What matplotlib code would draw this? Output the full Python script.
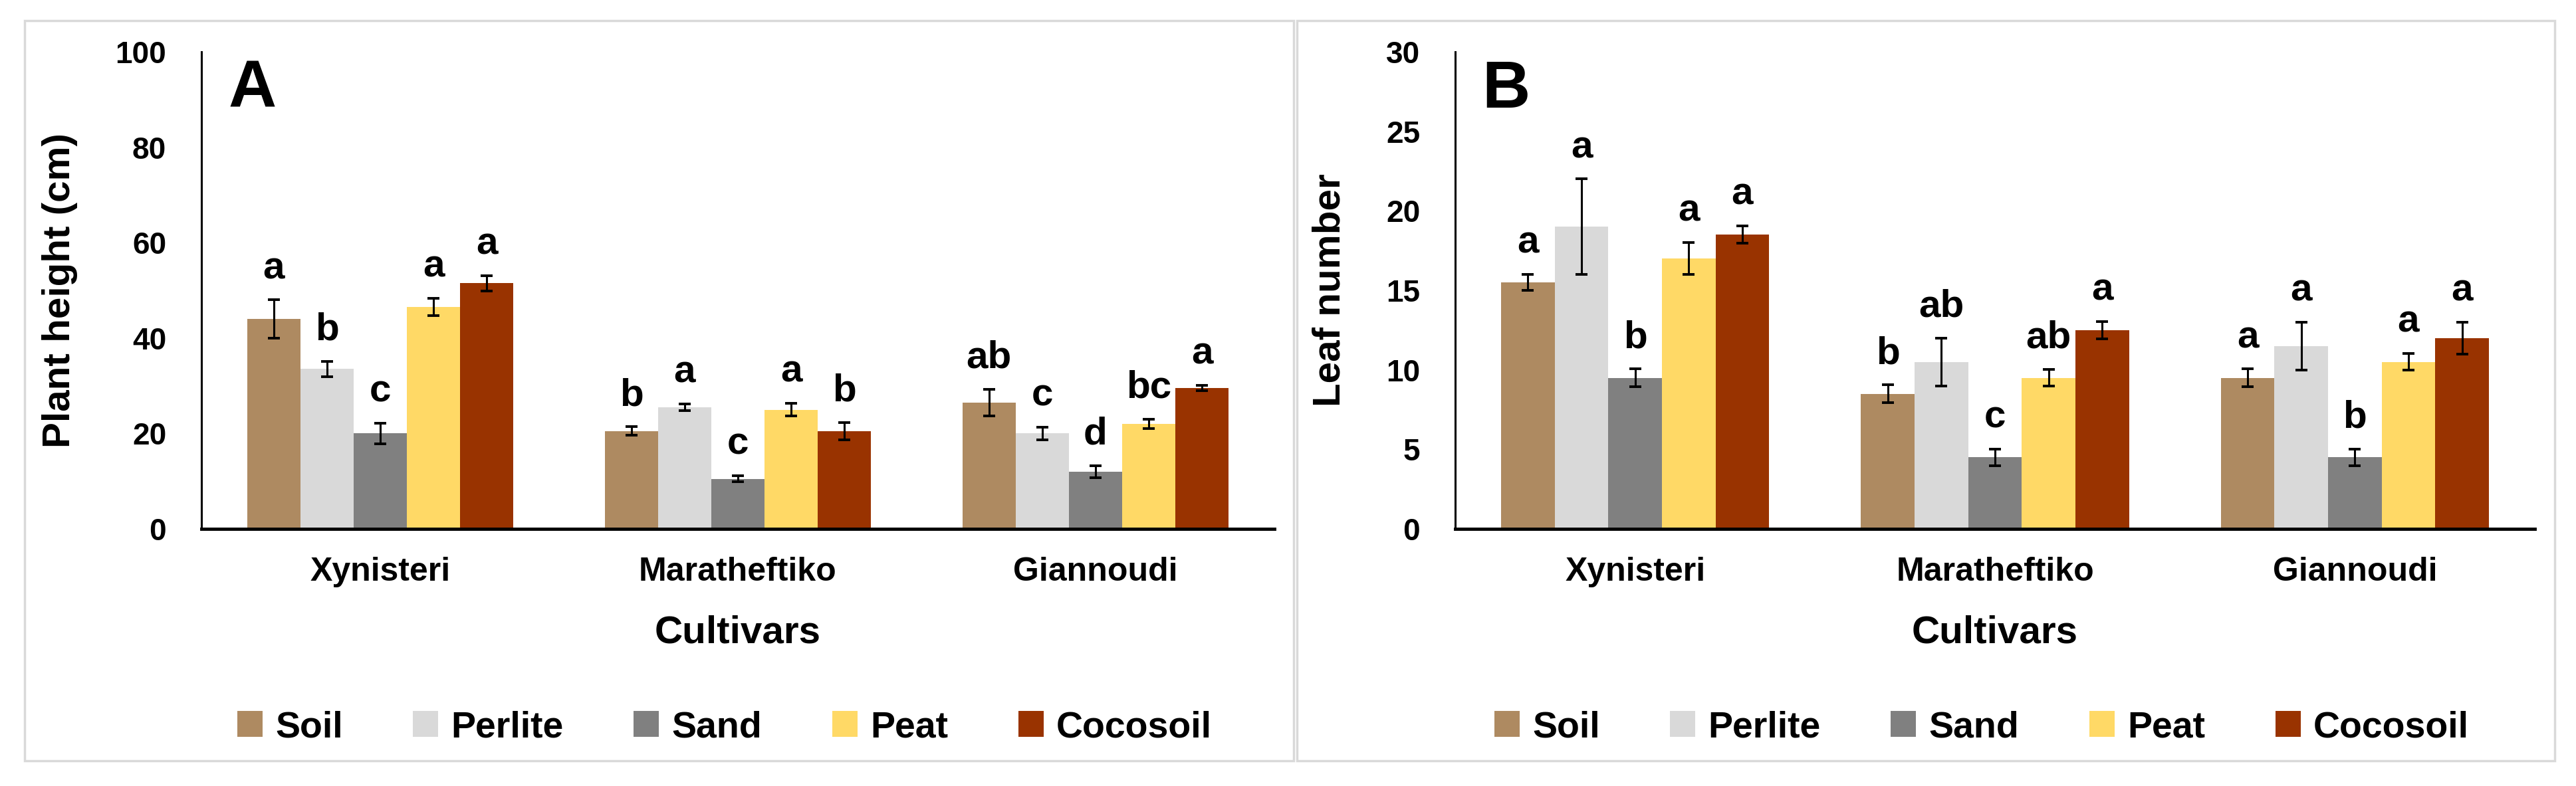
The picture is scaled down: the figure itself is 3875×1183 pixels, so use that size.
import matplotlib
matplotlib.use('Agg')
import matplotlib.pyplot as plt
from matplotlib.patches import Rectangle
import numpy as np

plt.rcParams['font.family'] = ['Liberation Sans', 'DejaVu Sans']
plt.rcParams['font.weight'] = 'bold'

cultivars = ['Xynisteri', 'Maratheftiko', 'Giannoudi']
substrates = ['Soil', 'Perlite', 'Sand', 'Peat', 'Cocosoil']
colors = ['#AE8A61', '#D9D9D9', '#808080', '#FFD966', '#993300']

# plant height (cm), rows = substrate, cols = cultivar
height_mean = [[44.0, 20.5, 26.5],
               [33.5, 25.5, 20.0],
               [20.0, 10.5, 12.0],
               [46.5, 25.0, 22.0],
               [51.5, 20.5, 29.5]]
height_err = [[4.0, 0.9, 2.8],
              [1.6, 0.7, 1.3],
              [2.2, 0.6, 1.3],
              [1.8, 1.3, 1.0],
              [1.6, 1.8, 0.6]]
height_letters = [['a', 'b', 'ab'],
                  ['b', 'a', 'c'],
                  ['c', 'c', 'd'],
                  ['a', 'a', 'bc'],
                  ['a', 'b', 'a']]

# leaf number
leaf_mean = [[15.5, 8.5, 9.5],
             [19.0, 10.5, 11.5],
             [9.5, 4.5, 4.5],
             [17.0, 9.5, 10.5],
             [18.5, 12.5, 12.0]]
leaf_err = [[0.5, 0.55, 0.55],
            [3.0, 1.5, 1.5],
            [0.55, 0.52, 0.52],
            [1.0, 0.53, 0.53],
            [0.55, 0.53, 1.0]]
leaf_letters = [['a', 'b', 'a'],
                ['a', 'ab', 'a'],
                ['b', 'c', 'b'],
                ['a', 'ab', 'a'],
                ['a', 'a', 'a']]

W, H = 3875, 1183
fig = plt.figure(figsize=(W / 100, H / 100), dpi=100)

# panel frames (gray borders like the excel chart areas)
for x0, x1 in [(37, 1946), (1951, 3843)]:
    fig.patches.append(Rectangle((x0 / W, 1 - 1145 / H), (x1 - x0) / W, (1145 - 31) / H,
                                 transform=fig.transFigure, fill=False,
                                 edgecolor='#D9D9D9', linewidth=2.5))


def panel(left, width, means, errs, letters, ymax, ystep, ylabel, tag, ylabel_x):
    ax = fig.add_axes([left / W, 1 - 796 / H, width / W, (796 - 78) / H])
    x = np.arange(len(cultivars))
    bw = 0.149
    for i, sub in enumerate(substrates):
        pos = x + (i - 2) * bw
        ax.bar(pos, means[i], bw, color=colors[i], label=sub, zorder=2)
        ax.errorbar(pos, means[i], yerr=errs[i], fmt='none', ecolor='black',
                    elinewidth=2.2, capsize=6.5, capthick=2.8, zorder=3)
        for j in range(len(cultivars)):
            ax.text(pos[j], means[i][j] + errs[i][j] + 0.045 * ymax, letters[i][j],
                    ha='center', va='baseline', fontsize=42, fontweight='bold')
    ax.set_xlim(-0.5, 2.5)
    ax.set_ylim(0, ymax)
    ax.set_yticks(np.arange(0, ymax + 0.1, ystep))
    ax.set_xticks(x)
    ax.set_xticklabels(cultivars)
    ax.tick_params(axis='y', length=0, pad=38, labelsize=33)
    ax.tick_params(axis='x', length=0, pad=30, labelsize=36)
    for s in ['top', 'right']:
        ax.spines[s].set_visible(False)
    ax.spines['left'].set_linewidth(2.2)
    ax.spines['bottom'].set_linewidth(3.5)
    ax.text(0.025, 0.985, tag, transform=ax.transAxes, ha='left', va='top',
            fontsize=72, fontweight='bold')
    fig.text(ylabel_x / W, 1 - 437 / H, ylabel, rotation=90, ha='center', va='center',
             fontsize=42, fontweight='bold')
    fig.text((left + width / 2) / W, 1 - 952 / H, 'Cultivars', ha='center', va='center',
             fontsize=42, fontweight='bold')
    ax.legend(loc='center', bbox_to_anchor=((left + width / 2 - 20) / W, 1 - 1095 / H),
              bbox_transform=fig.transFigure, ncol=5, frameon=False, fontsize=40,
              handlelength=0.68, handleheight=0.68, handletextpad=0.35,
              columnspacing=1.9)
    return ax


panel(303, 1614, height_mean, height_err, height_letters, 100, 20,
      'Plant height (cm)', 'A', 90)
panel(2189, 1624, leaf_mean, leaf_err, leaf_letters, 30, 5,
      'Leaf number', 'B', 2000)

fig.savefig('out.png', dpi=100, facecolor='white')
